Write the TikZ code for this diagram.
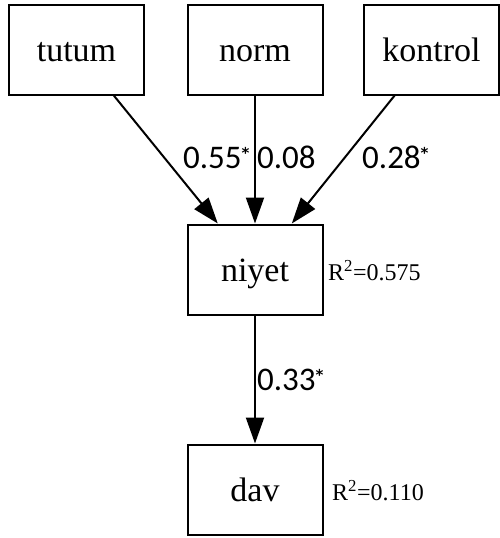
\documentclass[tikz,border=0pt]{standalone}
\usepackage{fontspec}
\setmainfont{Liberation Serif}
\newfontfamily\edgefont{Carlito}
\newfontfamily\starfont{DejaVu Sans}
\usetikzlibrary{arrows.meta}
\newcommand\sigstar{\raisebox{10pt}{\starfont\bfseries\fontsize{15}{15}\selectfont *}}
\begin{document}
\begin{tikzpicture}[x=1pt,y=-1pt,
  box/.style={draw, line width=2pt, minimum width=135pt, minimum height=90pt, inner sep=0pt, text height=30pt, text depth=6pt, font=\fontsize{34}{40}\selectfont},
  conn/.style={line width=2pt, -{Triangle[length=26pt,width=18pt]}},
  coef/.style={font=\edgefont\fontsize{33}{38}\selectfont, anchor=base west, inner sep=0pt},
  rsq/.style={font=\fontsize{24}{28}\selectfont, anchor=west, inner sep=0pt}]
\useasboundingbox (0,0) rectangle (500,538);
\node[box] (tutum) at (76.5,49.5) {tutum};
\node[box] (norm) at (255,49.5) {norm};
\node[box] (kontrol) at (431.5,49.5) {kontrol};
\node[box] (niyet) at (255,269.5) {niyet};
\node[box] (dav) at (255,489.5) {dav};
\draw[conn] (tutum) -- (niyet);
\draw[conn] (norm) -- (niyet);
\draw[conn] (kontrol) -- (niyet);
\draw[conn] (niyet) -- (dav);
\node[coef] (l1) at (183,168) {0.55\sigstar};
\node[coef] (l2) at (257,168) {0.08};
\node[coef] (l3) at (362,168) {0.28\sigstar};
\node[coef] (l4) at (257,390) {0.33\sigstar};
\node[rsq] (r1) at (328,271) {R\textsuperscript{2}=0.575};
\node[rsq] (r2) at (332,491) {R\textsuperscript{2}=0.110};
\end{tikzpicture}
\end{document}
